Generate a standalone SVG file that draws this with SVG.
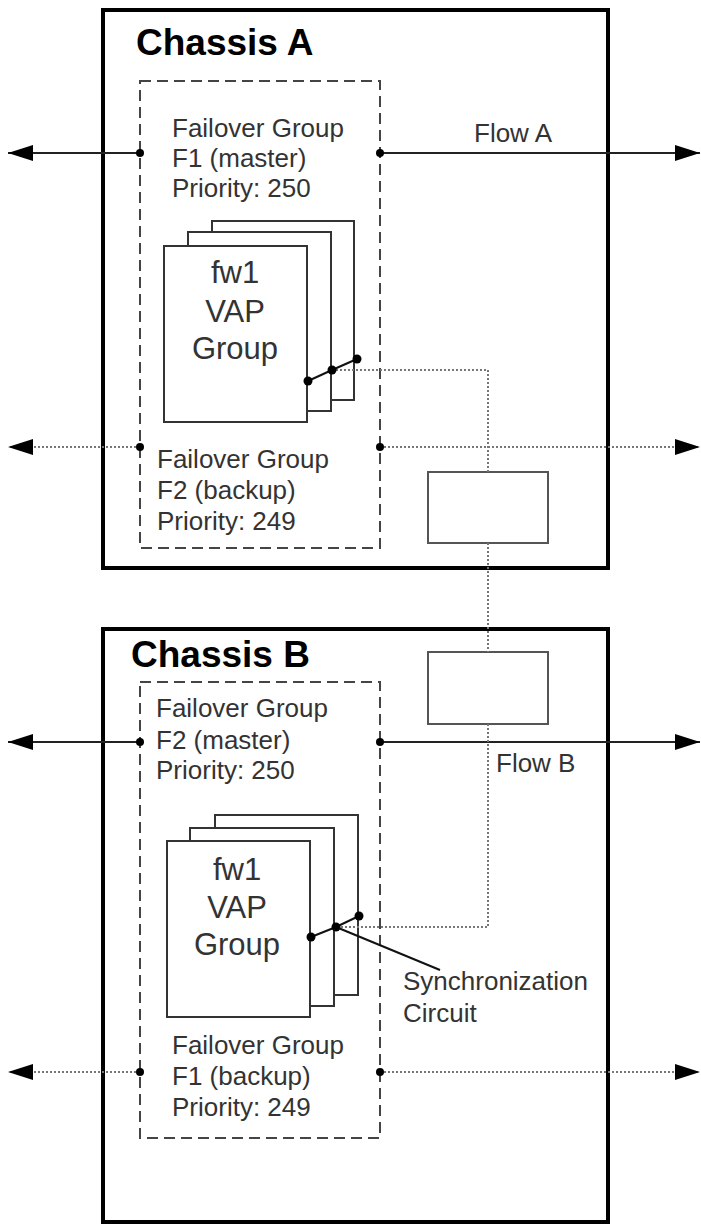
<svg xmlns="http://www.w3.org/2000/svg" width="701" height="1226" viewBox="0 0 701 1226">
<style>
.chassis{fill:#fff;stroke:#000;stroke-width:4}
.title{font-family:"Liberation Sans",Arial,sans-serif;font-size:37px;font-weight:bold;fill:#000}
.lbl{font-family:"Liberation Sans",Arial,sans-serif;font-size:26px;fill:#333}
.vap{font-family:"Liberation Sans",Arial,sans-serif;font-size:31px;fill:#333;text-anchor:middle}
.fg{fill:none;stroke:#444;stroke-width:2;stroke-dasharray:11,6}
.card{fill:#fff;stroke:#333;stroke-width:2}
.box{fill:#fff;stroke:#555;stroke-width:2}
.flow{fill:none;stroke:#222;stroke-width:2}
.flowd{fill:none;stroke:#777;stroke-width:2;stroke-dasharray:2,2}
.sync{fill:none;stroke:#777;stroke-width:2;stroke-dasharray:2,2}
.wire{fill:none;stroke:#111;stroke-width:2}
.dot{fill:#000}
</style>
<defs>
<marker id="arr" viewBox="0 0 25 16" refX="25" refY="8" markerWidth="25" markerHeight="16" markerUnits="userSpaceOnUse" orient="auto">
<path d="M0,0 L25,8 L0,16 Z" fill="#000"/>
</marker>
</defs>
<rect width="701" height="1226" fill="#fff"/>

<g id="chassisA">
<rect class="chassis" x="103" y="10" width="505" height="558"/>
<text class="title" x="136" y="55">Chassis A</text>
</g>
<g id="chassisB">
<rect class="chassis" x="103" y="629" width="505" height="593"/>
<text class="title" x="131" y="667">Chassis B</text>
</g>

<g id="syncBoxA"><rect class="box" x="428" y="472" width="120" height="71"/></g>
<g id="syncBoxB"><rect class="box" x="428" y="652" width="120" height="72"/></g>

<g id="failoverA">
<rect class="fg" x="140" y="81" width="240" height="467"/>
<text class="lbl" x="172" y="137">Failover Group</text>
<text class="lbl" x="172" y="167">F1 (master)</text>
<text class="lbl" x="172" y="197">Priority: 250</text>
<text class="lbl" x="157" y="468">Failover Group</text>
<text class="lbl" x="157" y="499">F2 (backup)</text>
<text class="lbl" x="157" y="530">Priority: 249</text>
</g>

<g id="vapA">
<rect class="card" x="212" y="221" width="142" height="179"/>
<rect class="card" x="188" y="232" width="143" height="179"/>
<rect class="card" x="164" y="246" width="143" height="176"/>
<text class="vap" x="235" y="283">fw1</text>
<text class="vap" x="235" y="322">VAP</text>
<text class="vap" x="235" y="359">Group</text>
</g>

<g id="failoverB">
<rect class="fg" x="140" y="682" width="240" height="456"/>
<text class="lbl" x="156" y="717">Failover Group</text>
<text class="lbl" x="156" y="749">F2 (master)</text>
<text class="lbl" x="156" y="779">Priority: 250</text>
<text class="lbl" x="172" y="1054">Failover Group</text>
<text class="lbl" x="172" y="1085">F1 (backup)</text>
<text class="lbl" x="172" y="1116">Priority: 249</text>
</g>

<g id="vapB">
<rect class="card" x="215" y="815" width="143" height="180"/>
<rect class="card" x="190" y="828" width="144" height="178"/>
<rect class="card" x="167" y="841" width="143" height="176"/>
<text class="vap" x="237" y="880">fw1</text>
<text class="vap" x="237" y="918">VAP</text>
<text class="vap" x="237" y="955">Group</text>
</g>

<g id="labels">
<text class="lbl" x="474" y="142">Flow A</text>
<text class="lbl" x="496" y="772">Flow B</text>
<text class="lbl" x="403" y="990">Synchronization</text>
<text class="lbl" x="403" y="1022">Circuit</text>
</g>

<g id="connectors">
<line class="flow" x1="140" y1="153" x2="8" y2="153" marker-end="url(#arr)"/>
<line class="flow" x1="380" y1="153" x2="700" y2="153" marker-end="url(#arr)"/>
<line class="flowd" x1="140" y1="447" x2="8" y2="447" marker-end="url(#arr)"/>
<line class="flowd" x1="380" y1="447" x2="700" y2="447" marker-end="url(#arr)"/>
<line class="flow" x1="140" y1="742" x2="8" y2="742" marker-end="url(#arr)"/>
<line class="flow" x1="380" y1="742" x2="700" y2="742" marker-end="url(#arr)"/>
<line class="flowd" x1="140" y1="1072" x2="8" y2="1072" marker-end="url(#arr)"/>
<line class="flowd" x1="380" y1="1072" x2="700" y2="1072" marker-end="url(#arr)"/>
<polyline class="sync" points="332,370 488,370 488,472"/>
<line class="sync" x1="488" y1="543" x2="488" y2="652"/>
<polyline class="sync" points="488,724 488,927 336,927"/>
<line class="wire" x1="336" y1="927" x2="440" y2="970"/>
<polyline class="wire" points="308,381 332,370 357,359"/>
<polyline class="wire" points="311,937 336,927 359,916"/>
<circle class="dot" cx="140" cy="153" r="4"/>
<circle class="dot" cx="380" cy="153" r="4"/>
<circle class="dot" cx="140" cy="447" r="4"/>
<circle class="dot" cx="380" cy="447" r="4"/>
<circle class="dot" cx="140" cy="742" r="4"/>
<circle class="dot" cx="380" cy="742" r="4"/>
<circle class="dot" cx="140" cy="1072" r="4"/>
<circle class="dot" cx="380" cy="1072" r="4"/>
<circle class="dot" cx="308" cy="381" r="4.5"/>
<circle class="dot" cx="332" cy="370" r="4.5"/>
<circle class="dot" cx="357" cy="359" r="4.5"/>
<circle class="dot" cx="311" cy="937" r="4.5"/>
<circle class="dot" cx="336" cy="927" r="4.5"/>
<circle class="dot" cx="359" cy="916" r="4.5"/>
</g>
</svg>
